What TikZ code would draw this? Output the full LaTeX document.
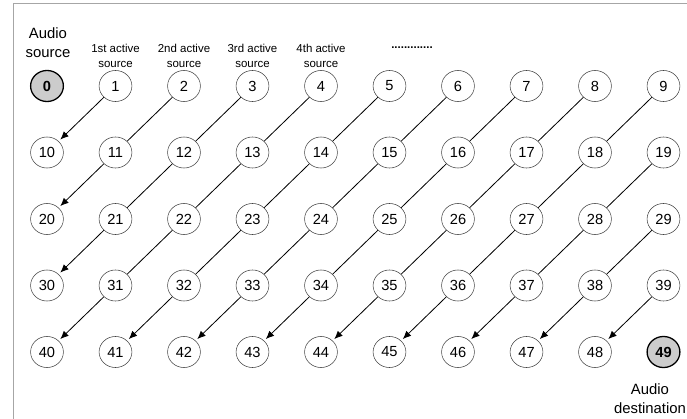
\documentclass[tikz,border=0pt]{standalone}
\usepackage{fontspec}
\setmainfont{Liberation Sans}
\usetikzlibrary{arrows.meta,shapes.geometric}

\begin{document}
\begin{tikzpicture}[x=0.03cm,y=-0.03cm,font=\fontsize{12.5}{14}\selectfont,>={Latex[length=7pt,width=6pt]},slot/.style={ellipse, draw=black!75, line width=0.45pt, minimum width=28pt, minimum height=26.5pt, inner sep=0pt},endslot/.style={draw=black, line width=1.1pt, fill=gray!40, font=\fontsize{12.5}{14}\selectfont\bfseries},kind0/.style={endslot},kind49/.style={endslot},link/.style={line width=0.7pt},tip0/.style={},tip1/.style={->,shorten >=2pt},caption/.style={align=center, font=\fontsize{9.8}{12.7}\selectfont},biglabel/.style={align=center, font=\fontsize{12.7}{16}\selectfont}]
\useasboundingbox (0,0) rectangle (687,419);
\draw[gray!70, line width=0.6pt] (13,419) -- (13,3) -- (687,3);
\foreach \r in {0,...,4}\foreach \c in {0,...,9}{\pgfmathtruncatemacro\k{10*\r+\c}\node[slot, kind\k/.try] (n\k) at (47+68.5*\c,86+66.5*\r) {\k};}
\foreach \r in {0,...,3}\foreach \c in {1,...,9}{\pgfmathtruncatemacro\a{10*\r+\c}\pgfmathtruncatemacro\b{\a+9}\pgfmathtruncatemacro\tip{(\c==1)||(\r==3)}\draw[link, tip\tip] (n\a) -- (n\b);}
\node[biglabel] (srclabel) at (48,42.5) {Audio\\source};
\node[caption] (act1) at (115.5,55.5) {1st active\\source};\node[caption] (act2) at (184,55.5) {2nd active\\source};
\node[caption] (act3) at (252.5,55.5) {3rd active\\source};\node[caption] (act4) at (321,55.5) {4th active\\source};
\node[caption, font=\fontsize{9.8}{12.7}\selectfont\bfseries] (more) at (412,48) {.............};
\node[biglabel] (dstlabel) at (650,398.5) {Audio\\destination};
\end{tikzpicture}
\end{document}
